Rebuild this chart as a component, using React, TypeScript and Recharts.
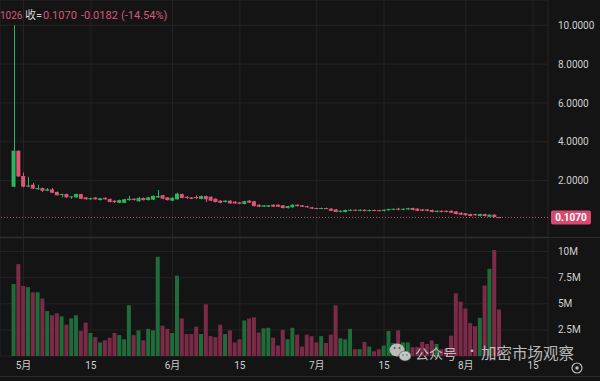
import React from 'react';
import { ComposedChart, Bar, XAxis, YAxis, CartesianGrid, ReferenceLine, Cell } from 'recharts';

// daily candles, Apr 29 -> Aug 8 (index 0 = Apr 29)
const opens = [
  1.69, 3.54, 2.24, 1.70, 1.79, 1.56, 1.62, 1.48, 1.55, 1.42,
  1.28, 1.31, 1.14, 1.14, 1.31, 1.14, 1.04, 1.13, 1.00, 1.12,
  1.06, 0.97, 0.86, 0.86, 1.00, 1.07, 0.94, 1.11, 1.00, 1.02,
  1.14, 1.25, 1.14, 0.97, 1.04, 1.31, 1.17, 1.14, 1.16, 1.06,
  1.21, 1.17, 1.07, 0.97, 0.90, 0.97, 0.92, 0.88, 0.80, 0.97,
  0.94, 0.76, 0.66, 0.66, 0.76, 0.76, 0.73, 0.59, 0.63, 0.76,
  0.73, 0.69, 0.63, 0.59, 0.56, 0.59, 0.56, 0.52, 0.39, 0.39,
  0.45, 0.50, 0.45, 0.50, 0.44, 0.49, 0.48, 0.44, 0.48, 0.50,
  0.56, 0.50, 0.52, 0.59, 0.56, 0.52, 0.52, 0.49, 0.39, 0.45,
  0.45, 0.45, 0.42, 0.35, 0.32, 0.28, 0.28, 0.18, 0.28, 0.14,
  0.25, 0.1252,
];
const highs = [
  10.0, 3.56, 2.42, 2.20, 1.89, 1.79, 1.64, 1.62, 1.62, 1.44,
  1.33, 1.33, 1.20, 1.33, 1.32, 1.16, 1.12, 1.15, 1.11, 1.14,
  1.08, 0.99, 1.02, 1.06, 1.22, 1.09, 1.17, 1.13, 1.16, 1.24,
  1.52, 1.27, 1.16, 1.14, 1.38, 1.33, 1.20, 1.16, 1.25, 1.23,
  1.23, 1.19, 1.09, 1.00, 0.99, 0.99, 0.94, 0.90, 0.96, 1.00,
  0.96, 0.78, 0.75, 0.75, 0.78, 0.78, 0.75, 0.71, 0.78, 0.78,
  0.75, 0.71, 0.65, 0.61, 0.61, 0.61, 0.58, 0.54, 0.47, 0.51,
  0.52, 0.52, 0.52, 0.52, 0.51, 0.51, 0.50, 0.52, 0.56, 0.57,
  0.60, 0.57, 0.60, 0.61, 0.58, 0.54, 0.54, 0.51, 0.47, 0.47,
  0.47, 0.47, 0.44, 0.37, 0.34, 0.30, 0.30, 0.30, 0.30, 0.27,
  0.27, 0.13,
];
const lows = [
  1.66, 2.20, 1.66, 1.66, 1.57, 1.53, 1.42, 1.46, 1.36, 1.24,
  1.14, 1.12, 1.07, 1.12, 1.05, 1.03, 1.02, 1.03, 0.98, 1.02,
  0.88, 0.85, 0.84, 0.84, 0.97, 0.98, 0.92, 0.98, 0.98, 1.00,
  1.12, 1.05, 0.98, 0.95, 1.02, 1.09, 1.06, 1.05, 1.05, 1.04,
  0.90, 0.95, 0.88, 0.84, 0.88, 0.81, 0.81, 0.79, 0.78, 0.85,
  0.67, 0.64, 0.64, 0.64, 0.64, 0.64, 0.57, 0.57, 0.61, 0.67,
  0.64, 0.61, 0.54, 0.54, 0.54, 0.54, 0.43, 0.37, 0.37, 0.37,
  0.43, 0.43, 0.43, 0.42, 0.42, 0.43, 0.42, 0.42, 0.46, 0.48,
  0.48, 0.48, 0.50, 0.47, 0.43, 0.43, 0.43, 0.37, 0.37, 0.37,
  0.37, 0.33, 0.26, 0.23, 0.20, 0.16, 0.20, 0.16, 0.16, 0.12,
  0.11, 0.1026,
];
const closes = [
  3.54, 2.22, 1.69, 1.75, 1.59, 1.62, 1.48, 1.55, 1.38, 1.25,
  1.31, 1.14, 1.19, 1.31, 1.07, 1.04, 1.10, 1.04, 1.09, 1.04,
  0.90, 0.90, 1.00, 1.04, 1.07, 1.00, 1.11, 1.00, 1.14, 1.22,
  1.21, 1.07, 1.00, 1.12, 1.33, 1.11, 1.11, 1.07, 1.10, 1.21,
  1.04, 0.97, 0.90, 0.86, 0.97, 0.83, 0.83, 0.81, 0.94, 0.87,
  0.69, 0.66, 0.73, 0.73, 0.66, 0.66, 0.59, 0.69, 0.76, 0.69,
  0.66, 0.63, 0.56, 0.56, 0.59, 0.56, 0.45, 0.39, 0.45, 0.49,
  0.50, 0.45, 0.50, 0.44, 0.49, 0.45, 0.44, 0.50, 0.54, 0.55,
  0.50, 0.55, 0.58, 0.49, 0.45, 0.45, 0.45, 0.39, 0.45, 0.39,
  0.39, 0.35, 0.28, 0.25, 0.22, 0.18, 0.22, 0.28, 0.18, 0.25,
  0.1252, 0.107,
];
// volume in millions
const volumes = [
  6.9, 8.8, 6.7, 6.6, 6.1, 6.1, 5.5, 4.3, 3.9, 4.1,
  3.8, 3.0, 3.6, 3.9, 2.4, 3.2, 2.2, 1.8, 1.3, 1.5,
  1.75, 2.2, 2.0, 1.6, 4.85, 2.0, 2.45, 1.5, 2.6, 2.45,
  9.5, 2.9, 2.6, 2.2, 7.7, 3.6, 2.1, 2.1, 2.8, 2.1,
  4.95, 1.9, 1.8, 3.0, 2.1, 2.45, 1.3, 1.6, 3.4, 3.6,
  3.7, 2.25, 2.65, 2.7, 1.75, 1.0, 2.5, 1.6, 2.7, 2.05,
  0.9, 2.05, 1.9, 1.3, 1.9, 1.25, 2.05, 4.85, 1.7, 1.6,
  2.6, 0.65, 0.65, 1.35, 0.9, 0.45, 0.65, 1.0, 2.4, 1.25,
  2.45, 1.3, 1.3, 0.85, 0.85, 1.35, 1.15, 1.5, 1.15, 0.65,
  0.7, 1.95, 6.0, 5.2, 4.55, 3.15, 2.85, 3.65, 6.75, 8.35,
  10.15, 4.45,
];

const tickDays = [2, 16, 33, 47, 63, 77, 94, 108];
const tickLabels = ['5月', '15', '6月', '15', '7月', '15', '8月', '15'];
const priceTicks = [2, 4, 6, 8, 10];
const volumeTicks = [2.5, 5, 7.5, 10];
const lastPrice = 0.107;

const BG = '#141414';
const GRID = '#242424';
const UP = '#2cb55f';
const DOWN = '#dd5679';
const VOL_UP = '#1f6b3a';
const VOL_DOWN = '#7b2b48';
const TEXT = '#cfcfcf';
const HEAD = '#d9577b';

const data = opens.map((o, i) => ({
  day: i,
  open: o,
  high: highs[i],
  low: lows[i],
  close: closes[i],
  range: [lows[i], highs[i]],
  volume: volumes[i],
  up: closes[i] >= o,
}));

const Candle = (props: any) => {
  const { x, y, width, height, payload } = props;
  if (!payload) return null;
  const top = Math.min(y, y + height);
  const h = Math.abs(height);
  const span = payload.high - payload.low || 1;
  const yOf = (v: number) => top + ((payload.high - v) / span) * h;
  const color = payload.up ? UP : DOWN;
  const y1 = Math.min(yOf(payload.open), yOf(payload.close));
  const y2 = Math.max(yOf(payload.open), yOf(payload.close));
  const cx = Math.round(x + width / 2) + 0.5;
  return (
    <g>
      <line x1={cx} x2={cx} y1={top} y2={top + h} stroke={color} strokeWidth={1} />
      <rect x={x} y={y1} width={width} height={Math.max(1, y2 - y1)} fill={color} />
    </g>
  );
};

const PriceTag = ({ viewBox }: any) => {
  if (!viewBox) return null;
  const bx = viewBox.x + viewBox.width + 3;
  return (
    <g>
      <rect x={bx} y={viewBox.y - 7} width={40} height={14} rx={2} fill="#d64a71" />
      <text x={bx + 20} y={viewBox.y + 3.5} textAnchor="middle" fill="#fff" fontSize={10} fontWeight="bold">
        {lastPrice.toFixed(4)}
      </text>
    </g>
  );
};

const xDomain = [-2.9, 111.1];

export default function App() {
  return (
    <div
      style={{
        position: 'absolute',
        left: 0,
        top: 0,
        width: 600,
        height: 381,
        background: BG,
        fontFamily: 'Roboto, "Noto Sans CJK SC", sans-serif',
        overflow: 'hidden',
      }}
    >
      <div style={{ position: 'absolute', left: 0, top: 0 }}>
        <ComposedChart width={600} height={237} data={data} margin={{ top: 0, right: 0, bottom: 0, left: 0 }}>
          <CartesianGrid stroke={GRID} />
          <XAxis dataKey="day" type="number" domain={xDomain} ticks={tickDays} hide />
          <YAxis
            orientation="right"
            width={52}
            type="number"
            domain={[-0.9, 11.3]}
            ticks={priceTicks}
            axisLine={false}
            tickLine={false}
            tickSize={0}
            tickMargin={10}
            tick={{ fill: TEXT, fontSize: 10 }}
            tickFormatter={(v: number) => v.toFixed(4)}
          />
          <ReferenceLine y={lastPrice} stroke="#c9506f" strokeDasharray="1 2" label={<PriceTag />} />
          <Bar dataKey="range" barSize={4} shape={<Candle />} isAnimationActive={false} />
        </ComposedChart>
      </div>
      <div style={{ position: 'absolute', left: 0, top: 238 }}>
        <ComposedChart width={600} height={143} data={data} margin={{ top: 0, right: 0, bottom: 0, left: 0 }}>
          <CartesianGrid stroke={GRID} />
          <XAxis
            dataKey="day"
            type="number"
            domain={xDomain}
            ticks={tickDays}
            height={25}
            axisLine={false}
            tickLine={false}
            tickSize={0}
            tickMargin={6}
            tick={{ fill: TEXT, fontSize: 10 }}
            tickFormatter={(v: number) => tickLabels[tickDays.indexOf(v)] ?? ''}
          />
          <YAxis
            orientation="right"
            width={52}
            type="number"
            domain={[0, 11.3]}
            ticks={volumeTicks}
            axisLine={false}
            tickLine={false}
            tickSize={0}
            tickMargin={10}
            tick={{ fill: TEXT, fontSize: 10 }}
            tickFormatter={(v: number) => `${v}M`}
          />
          <Bar dataKey="volume" barSize={4} isAnimationActive={false}>
            {data.map((d) => (
              <Cell key={d.day} fill={d.up ? VOL_UP : VOL_DOWN} />
            ))}
          </Bar>
        </ComposedChart>
      </div>
      <svg width={600} height={381} style={{ position: 'absolute', left: 0, top: 0, pointerEvents: 'none' }}>
        <line x1={0} x2={600} y1={237.5} y2={237.5} stroke="#2c2c2c" />
        <line x1={0} x2={600} y1={376.5} y2={376.5} stroke="#2c2c2c" />
        <g fontSize={11}>
          <text x={0} y={19} fill={HEAD} fontSize={10}>1026</text>
          <text x={25} y={19} fill="#d6d6d6">收=</text>
          <text x={43} y={19} fill={HEAD}>0.1070</text>
          <text x={81} y={19} fill={HEAD}>-0.0182</text>
          <text x={121} y={19} fill={HEAD}>(-14.54%)</text>
        </g>
        {/* watermark */}
        <g opacity={0.85}>
          <ellipse cx={397} cy={350} rx={7.5} ry={6.5} fill="#d0d0d0" />
          <ellipse cx={405} cy={356} rx={6} ry={5} fill="#e0e0e0" stroke="#555" strokeWidth={0.6} />
          <circle cx={394.5} cy={348} r={1} fill="#555" />
          <circle cx={399.5} cy={348} r={1} fill="#555" />
          <circle cx={403} cy={355} r={0.8} fill="#555" />
          <circle cx={407} cy={355} r={0.8} fill="#555" />
        </g>
        <g fill="#d4d4d4" opacity={0.85} fontFamily='"Noto Sans CJK SC"'>
          <text x={415} y={359} fontSize={14}>公众号</text>
          <text x={466} y={356} fontSize={12}>·</text>
          <text x={481} y={359} fontSize={15.5}>加密市场观察</text>
        </g>
        <circle cx={577} cy={368} r={5} fill="none" stroke="#bbb" strokeWidth={1.2} />
        <circle cx={577} cy={368} r={1.8} fill="#bbb" />
      </svg>
    </div>
  );
}
